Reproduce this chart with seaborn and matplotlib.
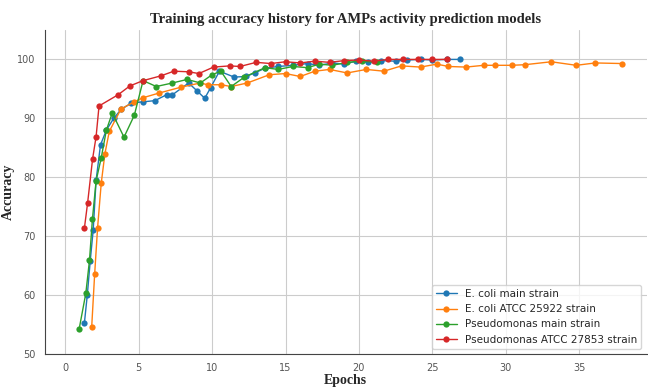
import matplotlib
matplotlib.use("Agg")
import matplotlib.pyplot as plt
import numpy as np
import pandas as pd
import seaborn as sns

# Data
labels = ["E. coli main strain", "E. coli ATCC 25922 strain",
          "Pseudomonas main strain", "Pseudomonas ATCC 27853 strain"]

ecoli_main_x = [1.3, 1.5, 1.7, 1.9, 2.1, 2.4, 2.8, 3.3, 3.8, 4.5, 5.3, 6.1, 6.9, 7.3,
                8.4, 9.0, 9.5, 9.9, 10.5, 11.5, 12.3, 12.9, 13.6, 14.5, 15.5, 16.5,
                17.3, 18.2, 19.0, 19.8, 20.6, 21.5, 22.5, 23.3, 24.2, 25.0, 26.0, 26.9]
ecoli_main_y = [55.2, 60.0, 65.8, 71.0, 79.5, 85.5, 88.0, 90.0, 91.5, 92.6, 92.8, 93.0,
                94.0, 94.0, 96.0, 94.6, 93.4, 95.2, 98.0, 97.0, 97.1, 97.7, 98.5, 98.8,
                99.0, 99.3, 99.0, 99.4, 99.2, 99.7, 99.5, 99.8, 99.7, 99.9, 100.0, 99.9,
                100.0, 100.0]

ecoli_atcc_x = [1.8, 2.0, 2.2, 2.45, 2.7, 3.0, 3.8, 4.7, 5.3, 6.4, 7.9, 9.2, 9.7, 10.6,
                11.3, 12.4, 13.9, 15.0, 16.0, 17.0, 18.0, 19.2, 20.5, 21.7, 22.9, 24.2,
                25.3, 26.1, 27.3, 28.5, 29.3, 30.4, 31.3, 33.1, 34.8, 36.1, 37.9]
ecoli_atcc_y = [54.6, 63.5, 71.4, 79.0, 84.0, 87.8, 91.6, 92.8, 93.5, 94.3, 95.3, 96.0,
                95.7, 95.7, 95.4, 96.0, 97.4, 97.6, 97.1, 98.0, 98.3, 97.7, 98.3, 98.0,
                98.9, 98.7, 99.2, 98.8, 98.7, 99.0, 99.0, 99.0, 99.1, 99.6, 99.0, 99.4,
                99.3]

pseudo_main_x = [0.95, 1.4, 1.65, 1.85, 2.1, 2.45, 2.8, 3.2, 4.0, 4.7, 5.3, 6.2, 7.3,
                 8.3, 9.2, 10.0, 10.6, 11.3, 12.2, 13.6, 14.5, 15.5, 16.5, 17.3, 18.2,
                 19.2, 20.2, 21.2]
pseudo_main_y = [54.3, 60.3, 65.9, 72.9, 79.4, 83.3, 88.0, 90.9, 86.8, 90.5, 96.4, 95.4,
                 96.0, 96.6, 96.0, 97.4, 98.0, 95.4, 97.0, 98.6, 98.3, 98.8, 98.6, 99.2,
                 99.0, 99.5, 99.7, 99.5]

pseudo_atcc_x = [1.3, 1.52, 1.86, 2.1, 2.3, 3.6, 4.4, 5.3, 6.5, 7.4, 8.4, 9.1, 10.1,
                 11.2, 11.9, 13.0, 14.0, 15.0, 16.0, 17.0, 18.0, 19.0, 20.0, 21.0, 22.0,
                 23.0, 24.0, 25.0, 26.0]
pseudo_atcc_y = [71.3, 75.6, 83.1, 86.9, 92.1, 94.0, 95.5, 96.4, 97.2, 98.0, 97.9, 97.6,
                 98.7, 98.9, 98.8, 99.5, 99.3, 99.6, 99.4, 99.7, 99.5, 99.8, 99.9, 99.7,
                 100.0, 100.0, 100.0, 100.0, 100.0]

xs = [ecoli_main_x, ecoli_atcc_x, pseudo_main_x, pseudo_atcc_x]
ys = [ecoli_main_y, ecoli_atcc_y, pseudo_main_y, pseudo_atcc_y]

df = pd.concat([pd.DataFrame({"Epochs": x, "Accuracy": y, "Model": lab})
                for x, y, lab in zip(xs, ys, labels)], ignore_index=True)

sns.set_style("whitegrid")
fig = plt.figure(figsize=(6.48, 3.89), dpi=100)
ax = fig.add_axes([0.069, 0.09, 0.929, 0.833])

sns.lineplot(data=df, x="Epochs", y="Accuracy", hue="Model", hue_order=labels,
             palette="tab10", marker="o", markersize=4.5, markeredgewidth=0,
             linewidth=1, errorbar=None, ax=ax)

ax.set_xlim(-1.4, 39.6)
ax.set_ylim(50, 105)
ax.set_xticks([0, 5, 10, 15, 20, 25, 30, 35])
ax.set_yticks([50, 60, 70, 80, 90, 100])
ax.tick_params(labelsize=7, colors="#555555", length=3)
for side in ["left", "bottom"]:
    ax.spines[side].set_color("#444444")
ax.spines["top"].set_visible(False)
ax.spines["right"].set_visible(False)

ax.set_title("Training accuracy history for AMPs activity prediction models",
             fontsize=10.5, fontweight="bold", family="Liberation Serif", pad=5)
ax.set_xlabel("Epochs", fontsize=10, fontweight="bold", family="Liberation Serif", labelpad=1)
ax.set_ylabel("Accuracy", fontsize=10, fontweight="bold", family="Liberation Serif", labelpad=2)

ax.legend(loc="lower right", fontsize=7.5, frameon=True, title=None)

fig.savefig("out.png", dpi=100)
